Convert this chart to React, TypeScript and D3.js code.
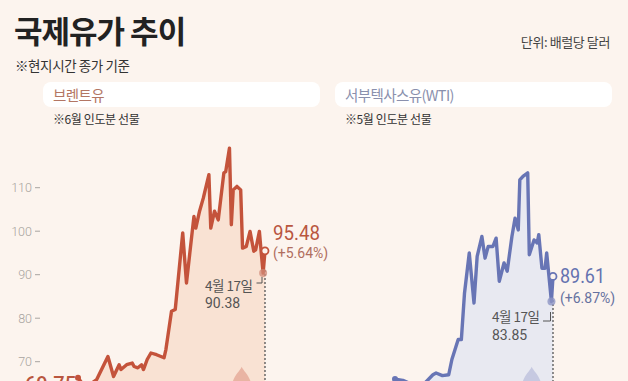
import React from 'react';
import * as d3 from 'd3';

const W = 628;
const H = 381;

const yTicks = [70, 80, 90, 100, 110];

const brentDays = [0, 4, 10, 16, 19, 22, 23, 26, 29, 30, 32, 34, 35, 37, 39, 42, 46, 47, 50, 52, 56, 58, 62, 63, 65, 67, 70, 71, 73, 75, 78, 79, 81, 82, 83, 85, 87, 88, 90, 92, 94, 95, 97, 98, 99, 100];
const brentValues = [66.3, 64.0, 65.9, 71.2, 66.6, 69.3, 68.2, 69.3, 69.7, 68.9, 68.6, 69.3, 68.2, 70.5, 72.0, 71.6, 70.9, 72.8, 81.6, 82.0, 99.6, 88.1, 103.4, 100.7, 104.6, 107.6, 113.0, 100.7, 104.6, 102.6, 113.4, 113.7, 119.1, 101.5, 109.5, 110.3, 109.5, 96.1, 96.5, 99.95, 95.4, 95.7, 99.95, 95.0, 90.38, 95.48];

const wtiDays = [0, 5, 16, 24, 26, 30, 34, 36, 38, 40, 42, 44, 47, 50, 52, 55, 57, 59, 62, 64, 66, 69, 71, 74, 76, 78, 79, 81, 84, 85, 88, 90, 91, 93, 95, 96, 99, 100];
const wtiValues = [66.0, 65.7, 64.0, 67.0, 67.4, 66.8, 67.0, 70.5, 72.8, 75.1, 75.1, 85.8, 95.0, 83.5, 94.2, 98.8, 93.8, 96.5, 96.5, 98.4, 88.5, 92.7, 90.8, 98.8, 103.0, 100.3, 111.8, 112.6, 113.4, 94.6, 98.0, 97.3, 99.2, 91.5, 91.5, 95.0, 83.85, 89.61];

const BG = '#fcf4ee';
const KR = "'Noto Sans CJK KR', 'Noto Sans', sans-serif";
const NUM = "Roboto, 'Noto Sans', sans-serif";

export default function App() {
  const y = d3.scaleLinear().domain([70, 110]).range([361.7, 187.7]);
  const xB = d3.scaleLinear().domain([0, 100]).range([78, 265]);
  const xW = d3.scaleLinear().domain([0, 100]).range([395, 553]);

  const brent = brentDays.map((d, i) => [d, brentValues[i]] as [number, number]);
  const wti = wtiDays.map((d, i) => [d, wtiValues[i]] as [number, number]);

  const lineB = d3.line<[number, number]>().x(d => xB(d[0])).y(d => y(d[1]));
  const areaB = d3.area<[number, number]>().x(d => xB(d[0])).y0(H + 30).y1(d => y(d[1]));
  const lineW = d3.line<[number, number]>().x(d => xW(d[0])).y(d => y(d[1]));
  const areaW = d3.area<[number, number]>().x(d => xW(d[0])).y0(H + 30).y1(d => y(d[1]));

  const bLast = brent[brent.length - 1];
  const bPrev = brent[brent.length - 2];
  const wLast = wti[wti.length - 1];
  const wPrev = wti[wti.length - 2];

  const drop = (cx: number, top: number) =>
    `M${cx},${top} C${cx + 2},${top + 5} ${cx + 10},${top + 10} ${cx + 10},${top + 22} L${cx - 10},${top + 22} C${cx - 10},${top + 10} ${cx - 2},${top + 5} ${cx},${top} Z`;

  return (
    <svg width={W} height={H} style={{ position: 'absolute', left: 0, top: 0, display: 'block' }}>
      <rect x={0} y={0} width={W} height={H} fill={BG} />

      {/* header */}
      <text x={14} y={43} fontFamily={KR} fontWeight={700} fontSize={31} fill="#222" letterSpacing={-1}>국제유가 추이</text>
      <text x={15} y={71} fontFamily={KR} fontSize={13.5} fill="#333" letterSpacing={-0.4}>※현지시간 종가 기준</text>
      <text x={610} y={47} fontFamily={KR} fontSize={13} fill="#444" textAnchor="end" letterSpacing={-0.4}>단위: 배럴당 달러</text>

      {/* panel headers */}
      <rect x={43} y={82} width={277} height={25} rx={8} fill="#ffffff" />
      <text x={53} y={100.5} fontFamily={KR} fontSize={14.5} fill="#b37663" letterSpacing={-0.6}>브렌트유</text>
      <text x={53} y={123.5} fontFamily={KR} fontSize={12} fill="#333" letterSpacing={-0.4}>※6월 인도분 선물</text>

      <rect x={335} y={82} width={277} height={25} rx={8} fill="#ffffff" />
      <text x={345} y={100.5} fontFamily={KR} fontSize={14.5} fill="#8a90ad" letterSpacing={-0.6}>서부텍사스유(WTI)</text>
      <text x={345} y={123.5} fontFamily={KR} fontSize={12} fill="#333" letterSpacing={-0.4}>※5월 인도분 선물</text>

      {/* y axis */}
      {yTicks.map(t => (
        <g key={t}>
          <text x={32} y={y(t)} dy="0.35em" fontFamily={NUM} fontSize={12.5} fontWeight={300} fill="#a8a4a0" textAnchor="end">{t}</text>
          <line x1={35} x2={40} y1={y(t)} y2={y(t)} stroke="#a8a4a0" strokeWidth={1} />
        </g>
      ))}

      {/* areas */}
      <path d={areaB(brent) || ''} fill="#f9e2d3" />
      <path d={areaW(wti) || ''} fill="#e8e9f1" />

      {/* drops */}
      <path d={drop(241.7, 366.7)} fill="#e9b4a3" />
      <path d={drop(531.7, 366.7)} fill="#c6c9e1" />

      {/* dashed guides */}
      <line x1={xB(bLast[0])} x2={xB(bLast[0])} y1={270} y2={H} stroke="#555" strokeWidth={1.3} strokeDasharray="2 2" />
      <line x1={xW(wLast[0])} x2={xW(wLast[0])} y1={300} y2={H} stroke="#555" strokeWidth={1.3} strokeDasharray="2 2" />

      {/* lines */}
      <path d={lineB(brent) || ''} fill="none" stroke="#c4533b" strokeWidth={3.4} strokeLinejoin="round" />
      <path d={lineW(wti) || ''} fill="none" stroke="#6875b5" strokeWidth={3.4} strokeLinejoin="round" />

      {/* start markers */}
      <circle cx={xB(brent[0][0])} cy={y(brent[0][1])} r={3} fill="#c4533b" />
      <circle cx={xW(wti[0][0])} cy={y(wti[0][1])} r={3} fill="#6875b5" />
      <text x={25} y={391} fontFamily={NUM} fontSize={20} fontWeight={500} fill="#b9563f">69.75</text>

      {/* previous-day dots */}
      <circle cx={xB(bPrev[0])} cy={y(bPrev[1])} r={4} fill="#d08a78" opacity={0.75} />
      <circle cx={xW(wPrev[0])} cy={y(wPrev[1])} r={4} fill="#8d95c4" opacity={0.8} />

      {/* end markers */}
      <circle cx={xB(bLast[0])} cy={y(bLast[1])} r={3.5} fill={BG} stroke="#c4533b" strokeWidth={1.8} />
      <circle cx={xW(wLast[0])} cy={y(wLast[1])} r={3.5} fill={BG} stroke="#6875b5" strokeWidth={1.8} />

      {/* brackets */}
      <path d="M256.5,283 H262 V277" fill="none" stroke="#555" strokeWidth={1} />
      <path d="M543,321 H550.5 V312" fill="none" stroke="#555" strokeWidth={1} />

      {/* brent labels */}
      <text x={273} y={240} fontFamily={NUM} fontSize={21} fill="#b9563f" textLength={47} lengthAdjust="spacingAndGlyphs">95.48</text>
      <text x={273} y={258} fontFamily={NUM} fontSize={14} fill="#b06e5e">(+5.64%)</text>
      <text x={205} y={291} fontFamily={KR} fontSize={13.5} fill="#555" letterSpacing={-0.5}>4월 17일</text>
      <text x={205} y={308.3} fontFamily={NUM} fontSize={14} fill="#555">90.38</text>

      {/* wti labels */}
      <text x={560} y={283} fontFamily={NUM} fontSize={21} fill="#6472b0" textLength={45} lengthAdjust="spacingAndGlyphs">89.61</text>
      <text x={560} y={303} fontFamily={NUM} fontSize={14} fill="#66719f">(+6.87%)</text>
      <text x={492} y={321.5} fontFamily={KR} fontSize={13.5} fill="#555" letterSpacing={-0.5}>4월 17일</text>
      <text x={492} y={339.5} fontFamily={NUM} fontSize={14} fill="#555">83.85</text>
    </svg>
  );
}
